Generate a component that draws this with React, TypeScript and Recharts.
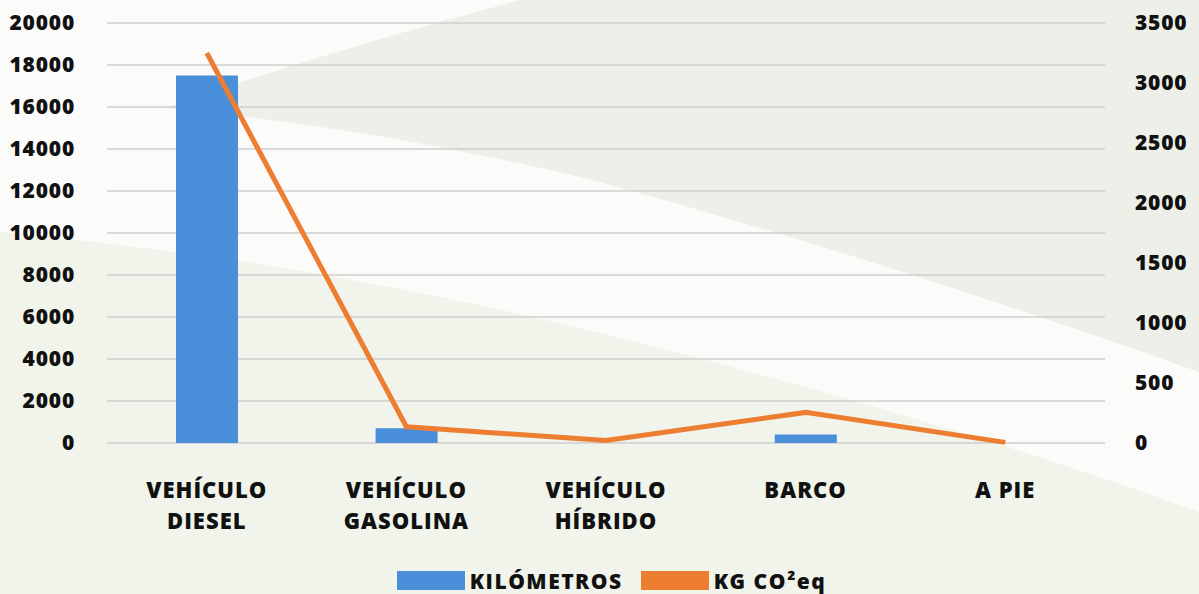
import React from 'react';
import { ComposedChart, Bar, Line, XAxis, YAxis, CartesianGrid, Legend } from 'recharts';

const categories = ['VEHÍCULO\nDIESEL', 'VEHÍCULO\nGASOLINA', 'VEHÍCULO\nHÍBRIDO', 'BARCO', 'A PIE'];
const kilometros = [17500, 700, 0, 400, 0];
const kgCO2 = [3250, 135, 20, 255, 5];
const leftTicks = [0, 2000, 4000, 6000, 8000, 10000, 12000, 14000, 16000, 18000, 20000];
const rightTicks = [0, 500, 1000, 1500, 2000, 2500, 3000, 3500];
const seriesNames = ['KILÓMETROS', 'KG CO²eq'];

const BLUE = '#4a8fda';
const ORANGE = '#ed7d31';
const FONT = "'Open Sans', 'Noto Sans', sans-serif";

const data = categories.map((c, i) => ({ name: c, km: kilometros[i], co2: kgCO2[i] }));

const XTick = (props: any) => {
  const { x, y, payload } = props;
  const lines = String(payload.value).split('\n');
  return (
    <text x={x} y={y} textAnchor="middle" fontFamily={FONT} fontWeight={800} fontSize={22} fill="#111" letterSpacing={1}>
      {lines.map((l, i) => (
        <tspan key={i} x={x} dy={i === 0 ? 55 : 31}>{l}</tspan>
      ))}
    </text>
  );
};

const LegendContent = (props: any) => {
  const payload = [...(props.payload || [])].sort(
    (a: any, b: any) => seriesNames.indexOf(a.value) - seriesNames.indexOf(b.value)
  );
  return (
    <div style={{ display: 'flex', justifyContent: 'center', alignItems: 'center', height: 25, paddingLeft: 24, fontFamily: FONT, fontWeight: 800, fontSize: 21, color: '#111', letterSpacing: 1.5 }}>
      {payload.map((p: any, i: number) => (
        <div key={i} style={{ display: 'flex', alignItems: 'center', marginRight: i === 0 ? 18 : 0 }}>
          <span style={{ display: 'inline-block', width: 68, height: 19, background: p.color, marginRight: 5 }} />
          <span>{p.value}</span>
        </div>
      ))}
    </div>
  );
};

export default function App() {
  return (
    <div style={{ position: 'absolute', left: 0, top: 0, width: 1199, height: 594, overflow: 'hidden', background: '#fbfcfa' }}>
      <svg width={1199} height={594} style={{ position: 'absolute', left: 0, top: 0 }}>
        <path d="M 165 108 Q 330 50 520 0 L 1199 0 L 1199 372 Q 900 265 600 182 Q 380 128 165 108 Z" fill="#ecf0e8" />
        <path d="M 0 232 Q 320 262 620 338 Q 930 415 1199 512 L 1199 594 L 0 594 Z" fill="#f0f4ea" />
      </svg>
      <div style={{ position: 'absolute', left: 0, top: 0 }}>
        <ComposedChart width={1199} height={594} data={data} margin={{ top: 23, right: 0, bottom: 1, left: 0 }}>
          <CartesianGrid yAxisId="left" horizontal vertical={false} stroke="#cfcfcf" strokeWidth={1.5} />
          <XAxis dataKey="name" tick={<XTick />} tickLine={false} axisLine={false} tickSize={0} tickMargin={0} height={125} interval={0} />
          <YAxis yAxisId="left" orientation="left" width={107} domain={[0, 20000]} ticks={leftTicks} interval={0}
            tickLine={false} axisLine={false} tickSize={0} tickMargin={32}
            tick={{ fill: '#111', fontSize: 21, fontWeight: 800, fontFamily: FONT, letterSpacing: 0.8 }} />
          <YAxis yAxisId="right" orientation="right" width={94} domain={[0, 3500]} ticks={rightTicks} interval={0}
            tickLine={false} axisLine={false} tickSize={0} tickMargin={30}
            tick={{ fill: '#111', fontSize: 21, fontWeight: 800, fontFamily: FONT, letterSpacing: 0.8 }} />
          <Legend verticalAlign="bottom" content={<LegendContent />} wrapperStyle={{ bottom: 1 }} />
          <Bar yAxisId="left" dataKey="km" name={seriesNames[0]} fill={BLUE} barSize={62} isAnimationActive={false} />
          <Line yAxisId="right" dataKey="co2" name={seriesNames[1]} stroke={ORANGE} strokeWidth={5} dot={false} activeDot={false} type="linear" isAnimationActive={false} />
        </ComposedChart>
      </div>
    </div>
  );
}
